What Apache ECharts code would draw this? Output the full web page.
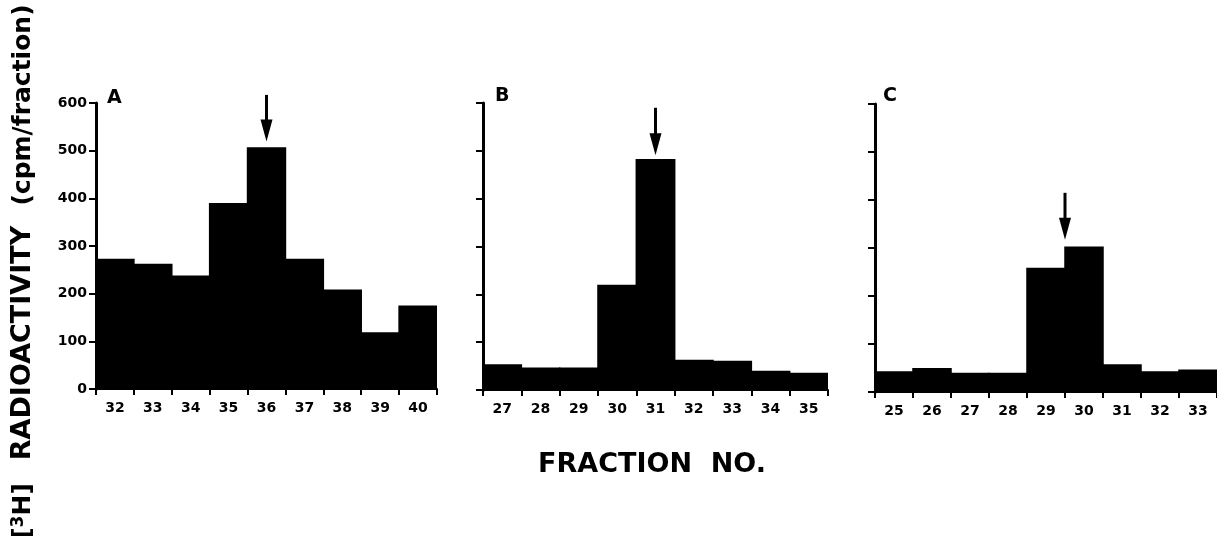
<!DOCTYPE html>
<html>
<head>
<meta charset="utf-8">
<script src="https://cdn.jsdelivr.net/npm/echarts@6/dist/echarts.min.js"></script>
<style>
html,body{margin:0;padding:0;background:#fff;}
#chart{width:1217px;height:536px;}
</style>
</head>
<body>
<div id="chart"></div>
<script>
// ---- data ----
const catsA = ['32','33','34','35','36','37','38','39','40'];
const valsA = [273, 263, 238, 390, 507, 273, 209, 119, 175];
const catsB = ['27','28','29','30','31','32','33','34','35'];
const valsB = [54, 47, 47, 220, 483, 63, 61, 40, 36];
const catsC = ['25','26','27','28','29','30','31','32','33'];
const valsC = [43, 50, 40, 40, 259, 303, 58, 43, 47];
const yMin = 0, yMax = 600, yStep = 100;
// arrows: [from category, to category] (midpoint), tail value, tip value
const arrowCats = [['36','36'], ['31','31'], ['29','30']];
const arrowTail = [617, 590, 415];
const arrowTip = [519, 491, 317];
const panelLabels = ['A', 'B', 'C'];

const FONT = 'DejaVu Sans';
const cats = [catsA, catsB, catsC];
const vals = [valsA, valsB, valsC];
const grids = [
  {left: 96, top: 103, width: 341, height: 286},
  {left: 483, top: 103, width: 345, height: 287},
  {left: 875, top: 104, width: 342, height: 288}
];

const chart = echarts.init(document.getElementById('chart'), null, {renderer: 'canvas'});

const xAxes = cats.map((c, i) => ({
  type: 'category', gridIndex: i, data: c, boundaryGap: true,
  axisLine: {show: true, lineStyle: {color: '#000', width: 2}},
  axisTick: {show: true, length: 6, alignWithLabel: false, interval: 0, lineStyle: {color: '#000', width: 2}},
  axisLabel: {show: true, interval: 0, margin: 12, color: '#000', fontFamily: FONT, fontWeight: 'bold', fontSize: 14},
  splitLine: {show: false}
}));
const yAxes = cats.map((c, i) => ({
  type: 'value', gridIndex: i, min: yMin, max: yMax, interval: yStep,
  axisLine: {show: true, lineStyle: {color: '#000', width: 3}},
  axisTick: {show: true, length: 7, lineStyle: {color: '#000', width: 2}},
  axisLabel: {show: i === 0, margin: 9, color: '#000', fontFamily: FONT, fontWeight: 'bold', fontSize: 14},
  splitLine: {show: false}
}));

const series = [];
vals.forEach((v, i) => {
  series.push({
    type: 'bar', xAxisIndex: i, yAxisIndex: i, data: v,
    barWidth: '104%',
    itemStyle: {color: '#000'}, silent: true, animation: false
  });
  const ac = arrowCats[i];
  series.push({
    type: 'custom', xAxisIndex: i, yAxisIndex: i, clip: false, animation: false, silent: true,
    encode: {x: 0, y: 2},
    data: [[cats[i].indexOf(ac[0]), cats[i].indexOf(ac[1]), arrowTail[i], arrowTip[i]]],
    renderItem: function (params, api) {
      const a0 = api.coord([api.value(0), api.value(2)]);
      const a1 = api.coord([api.value(1), api.value(2)]);
      const b0 = api.coord([api.value(0), api.value(3)]);
      const x = (a0[0] + a1[0]) / 2;
      const yTail = a0[1], yTip = b0[1];
      const head = 22, hw = 6;
      return {
        type: 'group',
        children: [
          {type: 'line', shape: {x1: x, y1: yTail, x2: x, y2: yTip - head + 2}, style: {stroke: '#000', lineWidth: 3}},
          {type: 'polygon', shape: {points: [[x - hw, yTip - head], [x + hw, yTip - head], [x, yTip]]}, style: {fill: '#000'}}
        ]
      };
    }
  });
});

const labelPos = [[107, 98], [495, 96], [883, 96]];
const graphic = [];
panelLabels.forEach((t, i) => {
  graphic.push({
    type: 'text', x: labelPos[i][0], y: labelPos[i][1],
    style: {text: t, font: 'bold 19px "' + FONT + '"', fill: '#000', textAlign: 'left', textVerticalAlign: 'middle'}
  });
});
graphic.push({
  type: 'text', x: 652, y: 465,
  style: {text: 'FRACTION  NO.', font: 'bold 27px "' + FONT + '"', fill: '#000', textAlign: 'center', textVerticalAlign: 'middle'}
});
graphic.push({
  type: 'text', x: 23, y: 105, rotation: Math.PI / 2,
  style: {text: '(cpm/fraction)', font: 'bold 25px "' + FONT + '"', fill: '#000', textAlign: 'center', textVerticalAlign: 'middle'}
});
graphic.push({
  type: 'text', x: 23, y: 343, rotation: Math.PI / 2,
  style: {text: 'RADIOACTIVITY', font: 'bold 27px "' + FONT + '"', fill: '#000', textAlign: 'center', textVerticalAlign: 'middle'}
});
graphic.push({
  type: 'text', x: 23, y: 511, rotation: Math.PI / 2,
  style: {
    text: '[{s|3}H]', font: 'bold 25px "' + FONT + '"', fill: '#000', textAlign: 'center', textVerticalAlign: 'middle',
    rich: {s: {fontSize: 17, fontWeight: 'bold', fontFamily: FONT, fill: '#000', verticalAlign: 'top'}}
  }
});

chart.setOption({
  backgroundColor: '#fff',
  animation: false,
  grid: grids,
  xAxis: xAxes,
  yAxis: yAxes,
  series: series,
  graphic: graphic
});
</script>
</body>
</html>
